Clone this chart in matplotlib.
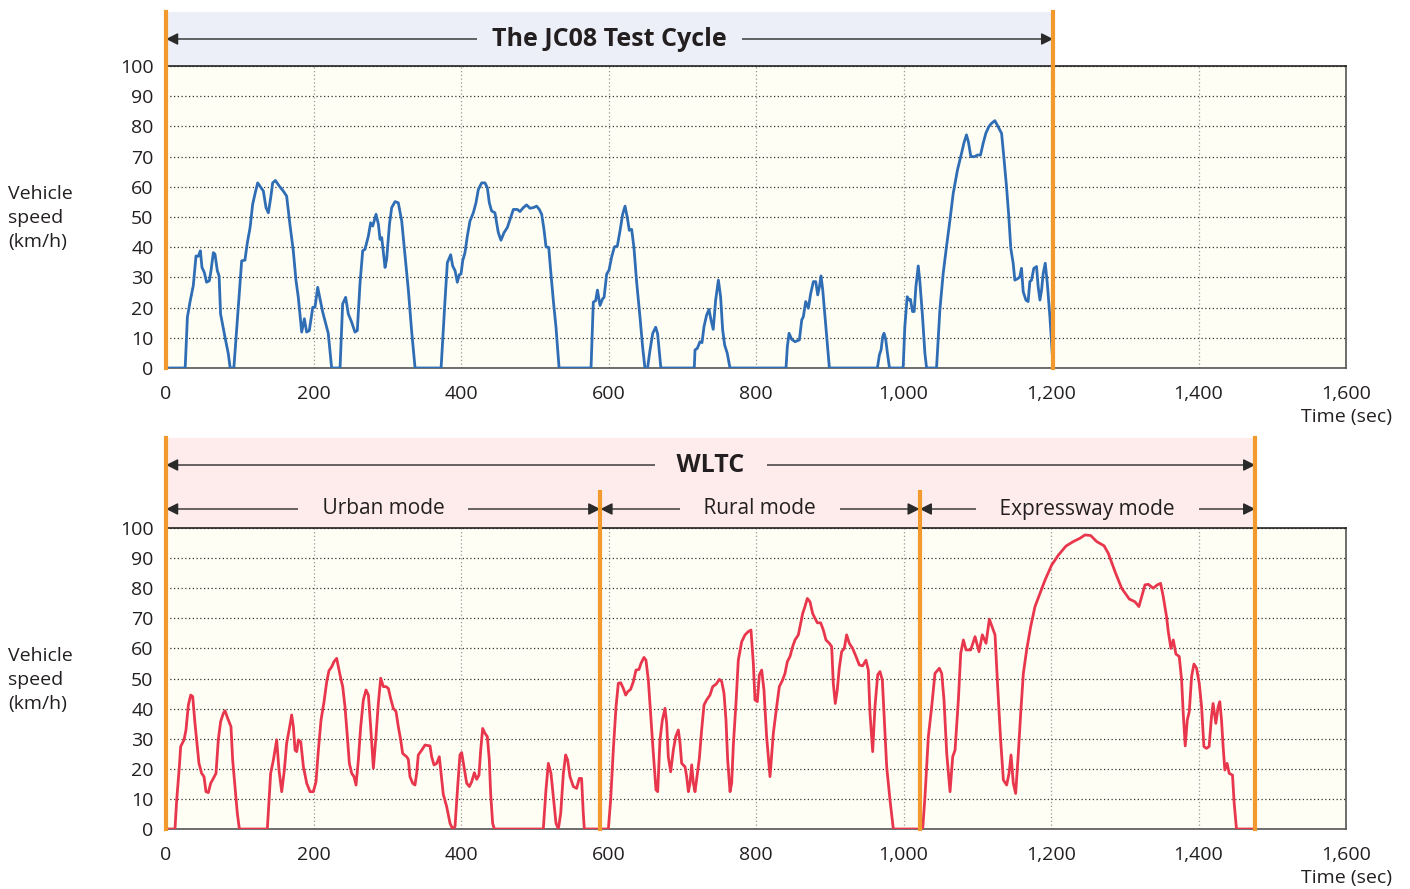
import matplotlib
matplotlib.use('Agg')
import matplotlib.pyplot as plt
from matplotlib.ticker import FuncFormatter
import matplotlib.transforms as mtransforms

plt.rcParams['font.family'] = ['Open Sans', 'DejaVu Sans']

# JC08 speed trace (time in s, speed in km/h)
jc08_t = [0, 26, 29, 32.5, 37, 40.7, 43.8, 46.6, 48.8, 52, 55, 58.8, 61, 64.2, 66.4, 69.6, 72, 74,
          80, 84.5, 87, 92, 96, 102.6, 107, 110.3, 114, 117.5, 121, 124.3, 127.5, 132, 135.6, 138.8,
          142, 144.6, 148.3, 153.7, 159, 163.6, 168, 172.6, 176.3, 179.4, 184, 187.6, 190.7, 194.3,
          199, 202, 205.7, 208.8, 212.5, 216, 220, 224.6, 236, 239.5, 243.6, 247.2, 251.7, 256.2,
          259.4, 263, 266.7, 269.8, 274.4, 277.5, 280.3, 284.8, 288, 290.2, 292.5, 297, 299.2, 303,
          306, 310.6, 315, 319.6, 324, 328.7, 333, 337.7, 373,
          378.3, 381.5, 386, 388.7, 392, 395, 397.7, 400, 402.3, 405.4, 408.6, 412.2, 416.7, 420.3,
          423.5, 428, 432.5, 435.7, 438.4, 441.5, 446, 450.6, 454.2, 458.3, 462.8, 467.3, 471, 476.4,
          480, 484.5, 489, 493.5, 498, 502.6, 506.2, 509.4, 512.5, 515.3, 519, 521.6, 525.2, 528.8,
          533, 576.3, 579.4, 582.6, 585, 588.5, 592, 594, 597.5, 600.7, 604.3, 608, 612, 615.6,
          619.2, 622.4, 625.5, 628.2, 631.4, 634.5, 638, 642.7, 646.3, 649.4, 653, 656.2, 660, 664,
          666.6, 669, 671, 716.3,
          717.3, 720.4, 724, 726.8, 729.5, 733, 736.3, 739, 742, 745.3, 749, 752, 754.8, 757.5, 761,
          764.7, 840.7, 842.5, 844.8, 848.4, 853, 858.8, 862, 864.2, 867.4, 871, 874.2, 877.8, 881,
          883.7, 886, 888.2, 890.5, 893.6, 896.8, 899.5, 964.6, 967.3, 969.6, 971.8, 973.6, 976,
          978.2, 981, 999.5, 1001.8, 1005, 1007.7, 1009.5, 1012.2, 1014.5, 1016.8, 1020, 1022.2,
          1025.8, 1029, 1031.3, 1044.8, 1049.3, 1053.8, 1058.3, 1063, 1067.4, 1073.2, 1078.7,
          1081.8, 1085.4, 1088, 1091.3, 1096.7, 1100, 1104.4, 1108, 1111.6, 1115.7, 1119.3, 1123.8,
          1127, 1133, 1136, 1139.7, 1142.8, 1145.5, 1148.7, 1151, 1155.5, 1157.7, 1160, 1162.3, 1166,
          1169, 1171.3, 1173.6, 1176.7, 1180.4, 1182.6, 1185, 1187.2, 1189.4, 1192.2, 1195, 1198.5,
          1203]
jc08_v = [0, 0, 16.8, 21.8, 27.3, 37.1, 37, 38.8, 33.3, 31.6, 28.4, 28.9, 32.2, 38.2, 37.7, 32.2, 30.5,
          17.9, 10.2, 4.7, 0, 0, 13.5, 35.5, 35.7, 41.5, 46.5, 54.2, 58, 61.3, 60.2, 58.6, 53.1, 51.4,
          56.4, 61.3, 62.1, 60.2, 58.6, 56.9, 47.6, 38.8, 28.9, 23.4, 11.9, 16.3, 11.9, 12.4, 20.1,
          20.1, 26.7, 22.9, 18.5, 15.2, 11.5, 0, 0, 21.2, 23.4, 17.9, 15.2, 11.9, 12.4, 27.8, 38.8,
          39.3, 43.7, 48.1, 47, 50.9, 47.6, 42.6, 43.2, 33.3, 36, 47.6, 53.1, 55.1, 54.7, 48.7, 37.7,
          25.6, 12.4, 0, 0,
          22.3, 34.9, 37.5, 33.8, 32.2, 28.4, 30.9, 31.1, 35.5, 38.2, 43.7, 48.7, 51.4, 54.7, 59.1,
          61.3, 61.3, 59.7, 54.7, 52, 51.4, 44.8, 42.3, 44.8, 46.5, 49.8, 52.5, 52.5, 51.8, 53.1, 54,
          52.9, 53.1, 53.6, 52.5, 50.9, 45.9, 40.1, 39.9, 32.2, 22.3, 13.5, 0, 0, 21.8, 22.3, 25.8,
          20.7, 22.9, 23.4, 31.1, 32.4, 36.8, 40.1, 40.4, 45.4, 50.9, 53.6, 49.8, 45.6, 45.9, 39.9,
          28.9, 16.8, 6.9, 0, 0, 5.8, 11.5, 13.5, 11.3, 5.3, 0, 0,
          6, 6.5, 8.7, 8.4, 13.7, 17.5, 19.4, 15.9, 12.8, 22.5, 29.1, 23.6, 12.6, 7.6, 4.9, 0, 0,
          7.1, 11.5, 9.5, 8.7, 9.3, 15.9, 17, 22, 19.8, 24.7, 28.6, 28.6, 24.2, 26.9, 30.5, 25.8, 17,
          8.2, 0, 0, 4.3, 6, 10.4, 11.5, 9.3, 4.9, 0, 0, 13.7, 23.6, 22.5, 22.7, 18.7, 18.7, 26.9,
          33.8, 28.6, 17, 4.9, 0, 0, 19.2, 31.3, 40.2, 49, 57.8, 65.6, 71.1, 74.4, 77.2, 74.9, 70,
          70, 70.5, 70.5, 74.4, 77.7, 79.9, 81, 81.9, 80.5, 77.7, 70, 60, 50.1, 39.6, 34.7, 29.1,
          29.7, 30.2, 33, 25.3, 22.5, 22, 28.6, 29.1, 33, 33.6, 26.9, 22.5, 25.8, 31.3, 34.7, 28, 17,
          0]

# WLTC speed trace (time in s, speed in km/h)
wltc_t = [0, 12.2, 14.5, 18.1, 19.9, 24.4, 27.1, 30.3, 33.5, 36.2, 39.3, 42.5, 44.7, 48.3, 51.5,
          54.2, 57.4, 60.6, 64.2, 67.8, 70.9, 74.1, 77.7, 80, 83.6, 88.1, 90.4, 93.6, 96.7, 99.5,
          137.4, 141.9, 145.6, 150.1, 153.2, 156.9, 160.5, 163.6, 167.3, 170.4, 172.7, 175, 177.3,
          179.5, 182.7, 186.3, 190.8, 195.3, 199.8, 203.4, 206.6, 210.2, 214.3, 217.9, 221, 224.7,
          227.8, 231.4, 234.6, 236.9, 239.6, 242.7, 245.9, 248.6, 251.8, 254.9, 257.7, 260.8, 264,
          267.6, 271.2, 274.4, 277.5, 281.2, 284.7, 287.9, 291.1, 294.7, 298.3, 301.5, 304.6, 308.2,
          311.9, 315, 318.2, 320.9, 326.3, 328.6, 330.8, 334.5, 337.6, 339.9, 342.1, 346.7, 351.2,
          358, 360.2, 363.4, 367, 370.6, 376, 380.6, 385.1, 388.7, 391.9, 395.5, 398.6, 400.9,
          404.1, 407.7, 411.3, 414.5, 418.1, 421.3, 424.4, 426.7, 429.4, 432.5, 435.7, 438.4, 440.2,
          442.9, 445.2, 511.6, 515.2, 518.4, 522, 525.2, 528.8, 532, 535.2, 538.8, 541.9, 544.6,
          547.8, 552.3, 556.8, 560.4, 563.5, 565.8, 567.2, 599.8, 602.9, 606.5, 610.2, 613.3, 616.5,
          620.1, 623.3, 626, 630, 633.6, 637.3, 641.3, 644, 648.1, 650.8, 654, 657.1, 660.8, 664.4,
          666.7, 669.8, 673, 676.6, 678.9, 681.1, 684.3, 687.9, 691.1, 694.7, 697, 699.2, 703.7, 706,
          708.3, 710.5, 712.8, 715.1, 717.3, 720.5, 723.2, 726.3, 729.5, 733.1, 737.6, 741.3, 745.8,
          750.3, 753.5, 756.6, 759.3, 761.6, 764.8, 767, 769.3, 772.9, 776, 780.6, 785.1, 789.6,
          793.2, 796.4, 798.6, 801.8, 804.5, 807.7, 810.8, 814.4, 819, 823.5, 828, 831.6, 836.1,
          839.3, 842.5, 846.1, 849.7, 852.9, 857.4, 860.5, 863.3, 866.4, 869.6, 873.2, 876.8, 880,
          883.2, 887.7, 891.3, 894.9, 899.4, 902.6, 904.8, 907.5, 910.2, 912.9, 916.1, 919.7, 922.9,
          926.5, 931, 935.6, 940.1, 944.6, 949.1, 952.3, 954.6, 958.2, 961.3, 965, 968.1, 971.3,
          973.6, 977.2, 981.7, 986.2, 1026, 1029.1, 1033.7, 1038.2, 1042.7, 1048.6, 1051.8, 1054.9,
          1058.6, 1063.1, 1066.7, 1069.9, 1074.4, 1077.6, 1081.2, 1084.8, 1091.1, 1097, 1102.4,
          1106.9, 1111.9, 1116.4, 1120.9, 1124.1, 1127.7, 1131.7, 1135.4, 1139.9, 1143.1, 1145.8,
          1148.9, 1152.1, 1155.7, 1158.9, 1162.5, 1167, 1172.4, 1178.3, 1185.1, 1191.9, 1200.9, 1210,
          1220.3, 1230.3, 1239.3, 1246.1, 1253.8, 1261.9, 1271.9, 1277.7, 1286.8, 1295.8, 1306.1,
          1313.8, 1319.2, 1322.9, 1327.4, 1331.9, 1338.6, 1344.1, 1348.6, 1352.2, 1356.7, 1359,
          1362.6, 1365.8, 1369.4, 1373.9, 1377.1, 1379.3, 1382, 1384.8, 1387.5, 1390.6, 1393.8,
          1397.4, 1401, 1404.2, 1407.3, 1410.8, 1414.4, 1417.6, 1419.8, 1423.5, 1426.7, 1428.9,
          1431.2, 1433.4, 1435.7, 1438.8, 1441.6, 1446.1, 1448.4, 1451.5, 1477]
wltc_v = [0, 0, 9.6, 20.7, 27.4, 29.6, 32.9, 41.2, 44.5, 44, 35.1, 27.4, 21.8, 18.5, 17.4, 12.4, 12.1,
          15.2, 16.8, 18.5, 29.6, 35.7, 38.4, 39.3, 36.8, 34, 22.9, 14.1, 5.2, 0,
          0, 18.5, 22.9, 29.6, 19.6, 12.4, 19.6, 28.5, 33.4, 37.9, 34, 26.2, 25.7, 29.6, 29, 20.7,
          15.2, 12.4, 12.4, 15.7, 26.2, 36.2, 42.3, 48.9, 52.6, 53.9, 55.6, 56.7, 52.8, 50.1, 47.3,
          40.6, 30.7, 21.8, 18.5, 17.4, 14.6, 22.9, 34, 42.9, 46.2, 44.5, 34, 20.2, 30.7, 41.7, 50.1,
          47.3, 47.3, 46.7, 43.4, 40.1, 39, 34, 29.6, 25.1, 24, 23.1, 17.4, 15.2, 14.6, 18.5, 24.6,
          26.2, 27.9, 27.6, 24, 21.3, 21.8, 24, 11.5, 7.4, 1.9, 0, 0.8, 14.1, 24.6, 25.4, 20.7, 15.2,
          14.1, 15.7, 18.7, 16.5, 17.9, 26.2, 33.4, 31.8, 30.7, 22.9, 11.8, 1.9, 0, 0, 13, 21.8,
          18.5, 10.7, 1.9, 0, 5.2, 18.5, 24.6, 22.9, 17.4, 14.1, 13.5, 16.8, 16.8, 5.2, 0, 0, 9.6,
          26.2, 40.6, 48.4, 48.6, 46.7, 44.5, 45.6, 46.4, 48.9, 52.8, 53, 55, 57, 56.1, 49.5, 38.4,
          25.1, 13, 12.4, 29.6, 36.2, 40.1, 35.1, 24, 19, 26.2, 30.7, 32.9, 28.5, 21.8, 20.7, 17.4,
          12.4, 15.2, 21.3, 15.2, 12.4, 18.5, 23.5, 32.9, 41.2, 42.9, 44.5, 47.3, 48.1, 49.7, 49,
          45.1, 36.2, 22.9, 12.4, 15.2, 28, 42, 56.1, 62.2, 64.5, 65.6, 66.1, 55, 42.9, 42.3, 51.2,
          52.8, 46.2, 30.7, 17.4, 31.8, 40.6, 47.3, 49.5, 51.7, 55.6, 57.3, 60.6, 62.8, 64.5, 68.3,
          71.6, 73.9, 76.6, 75.5, 71.6, 70, 68.5, 68.5, 66.1, 62.8, 61.7, 60.6, 48.4, 41.7, 46.2,
          53.4, 58.9, 60, 64.5, 61.7, 60, 57.3, 54.5, 54.2, 56.1, 52.8, 38.4, 25.7, 40.6, 51.2, 52.3,
          49.5, 38.4, 20.7, 9.6, 0, 0, 10.7, 30.7, 40.6, 51.7, 53.4, 51.7, 42.9, 25.1, 12.4, 24,
          26.2, 42.9, 58.4, 62.8, 59.5, 59.5, 63.9, 58.9, 64.5, 61.7, 69.7, 66.7, 64.5, 47.3, 29.6,
          16.3, 14.6, 18.5, 24.6, 15.2, 11.8, 25.1, 38.4, 51.7, 59.5, 67.2, 73.9, 78.3, 82.7, 87.7,
          91, 94, 95.5, 96.6, 97.7, 97.5, 95.5, 94.1, 91.6, 85.5, 80, 76.4, 75.5, 73.9, 77.2, 81.1,
          81.3, 80, 81.1, 81.6, 77.2, 70.5, 65.6, 60, 62.8, 58.1, 57.3, 49.5, 38.4, 27.6, 36.2, 39,
          50.6, 54.8, 53.4, 48.4, 40.6, 27.4, 26.8, 27.4, 37.3, 41.7, 35.1, 40.6, 42.3, 36.2, 27.4,
          19.6, 21.8, 18.5, 17.9, 8.5, 0, 0]

# mode boundaries (s)
jc08_end = 1203
wltc_bounds = [0, 589, 1022, 1477]
wltc_modes = ['Urban mode', 'Rural mode', 'Expressway mode']

text_col = '#231f20'
orange = '#f39a2e'
plot_bg = '#fefef4'

fig = plt.figure(figsize=(14.1, 8.89), dpi=100)


def setup_axes(ax):
    ax.set_xlim(0, 1600)
    ax.set_ylim(0, 100)
    ax.set_facecolor(plot_bg)
    ax.set_xticks(range(0, 1601, 200))
    ax.set_yticks(range(0, 101, 10))
    ax.xaxis.set_major_formatter(FuncFormatter(lambda x, p: '{:,}'.format(int(x))))
    ax.tick_params(length=0, labelsize=14, colors=text_col)
    ax.tick_params(axis='x', pad=12)
    ax.tick_params(axis='y', pad=9)
    ax.yaxis.grid(True, color='#333333', linestyle=(0, (1, 2)), linewidth=0.9)
    ax.xaxis.grid(True, color='#999999', linestyle=(0, (1, 2)), linewidth=0.9)
    ax.set_axisbelow(True)
    for s in ax.spines.values():
        s.set_color('#555555')
        s.set_linewidth(1.2)
    ax.spines['top'].set_color('#222222')


def band_arrow(ax, x0, x1, y, label, size, weight, bg, gap):
    tr = mtransforms.blended_transform_factory(ax.transData, ax.transAxes)
    ax.annotate('', xy=(x0, y), xytext=(x1, y), xycoords=tr, textcoords=tr,
                arrowprops=dict(arrowstyle='<|-|>', color='#2a2a2a', lw=1.0,
                                mutation_scale=18, shrinkA=0, shrinkB=0),
                annotation_clip=False)
    pad = ' ' * gap
    ax.text((x0 + x1) / 2, y, pad + label + pad, transform=tr, ha='center', va='center',
            fontsize=size, fontweight=weight, color=text_col,
            bbox=dict(boxstyle='square,pad=0.1', fc=bg, ec='none'), clip_on=False)


# ---- JC08 ----
ax1 = fig.add_axes([166 / 1410, 1 - 368 / 889, 1180 / 1410, 302 / 889])
setup_axes(ax1)
tr1 = mtransforms.blended_transform_factory(ax1.transData, ax1.transAxes)
top1 = (368 - 12) / 302
ax1.add_patch(plt.Rectangle((0, 1), jc08_end, top1 - 1, transform=tr1,
                            fc='#eceff8', ec='none', clip_on=False, zorder=0))
ax1.plot(jc08_t, jc08_v, color='#2f6db5', lw=2.0, zorder=3)
for x in [0, jc08_end]:
    ax1.plot([x, x], [0, top1], transform=tr1, color=orange, lw=3, clip_on=False, zorder=4)
band_arrow(ax1, 0, jc08_end, (368 - 39) / 302, 'The JC08 Test Cycle', 18, 'bold', '#eceff8', 2)

# ---- WLTC ----
ax2 = fig.add_axes([166 / 1410, 1 - 829 / 889, 1180 / 1410, 301 / 889])
setup_axes(ax2)
tr2 = mtransforms.blended_transform_factory(ax2.transData, ax2.transAxes)
top2 = (829 - 438) / 301
ax2.add_patch(plt.Rectangle((0, 1), wltc_bounds[-1], top2 - 1, transform=tr2,
                            fc='#fdeceb', ec='none', clip_on=False, zorder=0))
ax2.plot(wltc_t, wltc_v, color='#e8374d', lw=2.0, zorder=3)
mid_top = (829 - 492) / 301
for x in wltc_bounds:
    h = top2 if x in (wltc_bounds[0], wltc_bounds[-1]) else mid_top
    ax2.plot([x, x], [0, h], transform=tr2, color=orange, lw=3, clip_on=False, zorder=4)
band_arrow(ax2, 0, wltc_bounds[-1], (829 - 465) / 301, 'WLTC', 18, 'bold', '#fdeceb', 3)
for i, m in enumerate(wltc_modes):
    band_arrow(ax2, wltc_bounds[i], wltc_bounds[i + 1], (829 - 509) / 301, m, 15, 'normal',
               '#fdeceb', 4)

# axis titles
for yc in [218, 680]:
    fig.text(8 / 1410, 1 - yc / 889, 'Vehicle\nspeed\n(km/h)', ha='left', va='center',
             fontsize=14, color=text_col, linespacing=1.45)
for yc in [417, 878]:
    fig.text(1392 / 1410, 1 - yc / 889, 'Time (sec)', ha='right', va='center',
             fontsize=14, color=text_col)

plt.savefig('out.png', dpi=100)
